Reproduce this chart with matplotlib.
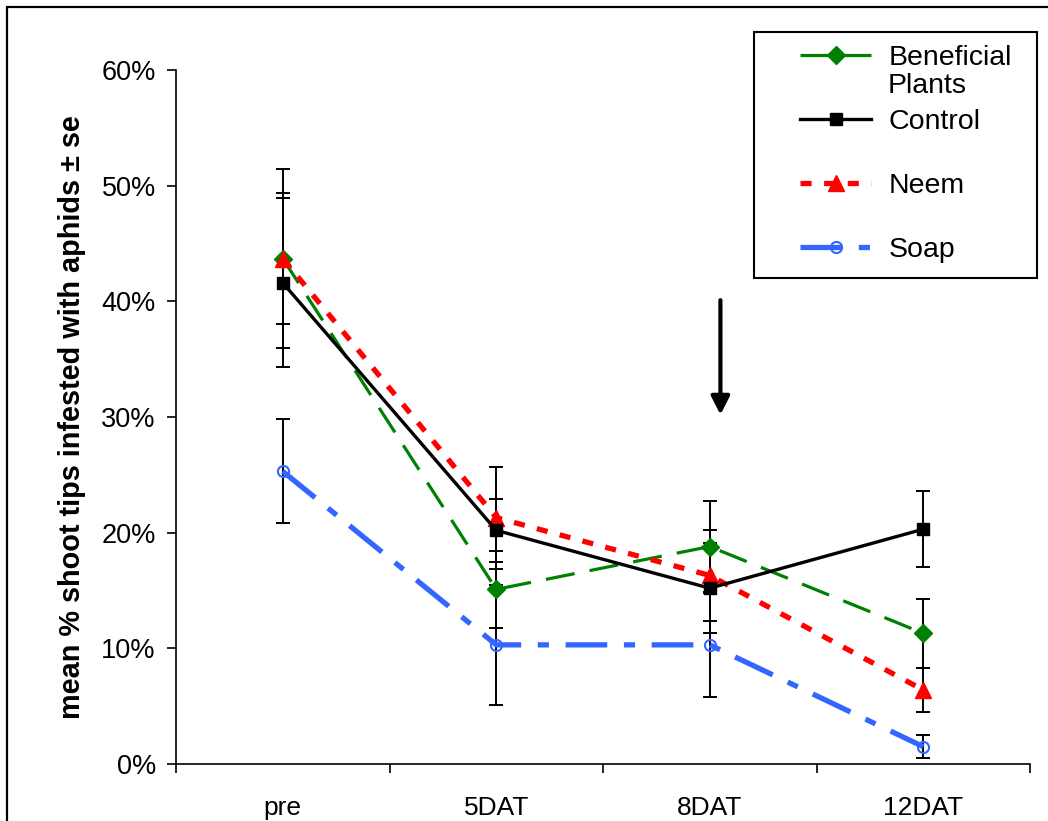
import matplotlib
matplotlib.use("Agg")
import matplotlib.pyplot as plt
from matplotlib.patches import Rectangle
from matplotlib.ticker import PercentFormatter

plt.rcParams['font.family'] = ['Liberation Sans', 'DejaVu Sans']
plt.rcParams['lines.scale_dashes'] = False

# data
stages = ['pre', '5DAT', '8DAT', '12DAT']

beneficial = [0.437, 0.151, 0.188, 0.113]
beneficial_se = [0.077, 0.033, 0.039, 0.030]

control = [0.416, 0.202, 0.152, 0.203]
control_se = [0.073, 0.027, 0.039, 0.033]

neem = [0.437, 0.213, 0.163, 0.064]
neem_se = [0.057, 0.044, 0.039, 0.019]

soap = [0.253, 0.103, 0.103, 0.015]
soap_se = [0.045, 0.052, 0.045, 0.010]

# arrow marking the treatment (x in category units, y in fraction)
arrow_x = 2.05
arrow_from = 0.401
arrow_to = 0.302

x = list(range(len(stages)))

fig = plt.figure(figsize=(10.48, 8.21), dpi=100)
ax = fig.add_axes([176 / 1048, 1 - 764 / 821, (1030 - 176) / 1048, (764 - 70) / 821])

# error bars first, lines on top
for vals, se in [(beneficial, beneficial_se), (control, control_se),
                 (neem, neem_se), (soap, soap_se)]:
    ax.errorbar(x, vals, yerr=se, fmt='none', ecolor='black',
                elinewidth=1.4, capsize=5, capthick=1.4, zorder=2)

ln_ben, = ax.plot(x, beneficial, color='#008000', lw=2.3, dashes=(21, 11),
                  marker='D', ms=9, mfc='#008000', mec='#008000', zorder=3)
ln_con, = ax.plot(x, control, color='black', lw=2.4,
                  marker='s', ms=8, zorder=4)
ln_neem, = ax.plot(x, neem, color='#ff0000', lw=3.8, dashes=(8, 9),
                   marker='^', ms=11, mfc='#ff0000', mec='#ff0000', zorder=3)
ln_soap, = ax.plot(x, soap, color='#3366ff', lw=3.8, dashes=(30, 12, 8, 12),
                   marker='o', ms=8, mfc='none', mec='#3366ff', mew=1.5, zorder=3)

ax.annotate('', xy=(arrow_x, arrow_to), xytext=(arrow_x, arrow_from),
            arrowprops=dict(arrowstyle='-|>,head_length=0.55,head_width=0.28',
                            mutation_scale=20, lw=3, color='black',
                            shrinkA=0, shrinkB=0))

ax.set_xlim(-0.5, len(stages) - 0.5)
ax.set_ylim(0, 0.6)
ax.set_yticks([0, 0.1, 0.2, 0.3, 0.4, 0.5, 0.6])
ax.yaxis.set_major_formatter(PercentFormatter(1.0, decimals=0))
ax.set_xticks(x)
ax.set_xticklabels(stages)
ax.set_xticks([i - 0.5 for i in range(len(stages) + 1)], minor=True)
ax.tick_params(axis='x', which='major', length=0, pad=23, labelsize=19)
ax.tick_params(axis='x', which='minor', length=6.5, width=1.2, direction='out')
ax.tick_params(axis='y', length=6.5, width=1.2, direction='out', pad=8, labelsize=19.5)

for side in ['top', 'right']:
    ax.spines[side].set_visible(False)
for side in ['left', 'bottom']:
    ax.spines[side].set_linewidth(1.2)

ax.set_ylabel('mean % shoot tips infested with aphids ± se', fontsize=20.8,
              fontweight='bold', labelpad=11)

# legend, with its box drawn separately
leg = fig.legend([ln_ben, ln_con, ln_neem, ln_soap],
                 ['Beneficial', 'Control', 'Neem', 'Soap'],
                 loc='upper left', bbox_to_anchor=(800 / 1048, 1 - 45 / 821),
                 frameon=False, fontsize=20.5, handlelength=2.5,
                 handletextpad=0.6, labelspacing=1.33, borderpad=0,
                 borderaxespad=0)
fig.text(888 / 1048, 1 - 86 / 821, 'Plants', fontsize=20.5, va='center', ha='left')
fig.add_artist(Rectangle((754 / 1048, 1 - 278 / 821), (1037 - 754) / 1048,
                         (278 - 32) / 821, transform=fig.transFigure,
                         fill=False, ec='black', lw=1.5))

# outer chart border (runs off the right and bottom)
fig.add_artist(Rectangle((7 / 1048, -0.05), 1.2, 1.05 - 7 / 821,
                         transform=fig.transFigure, fill=False, ec='black', lw=1.6))

fig.savefig('out.png', dpi=100)
